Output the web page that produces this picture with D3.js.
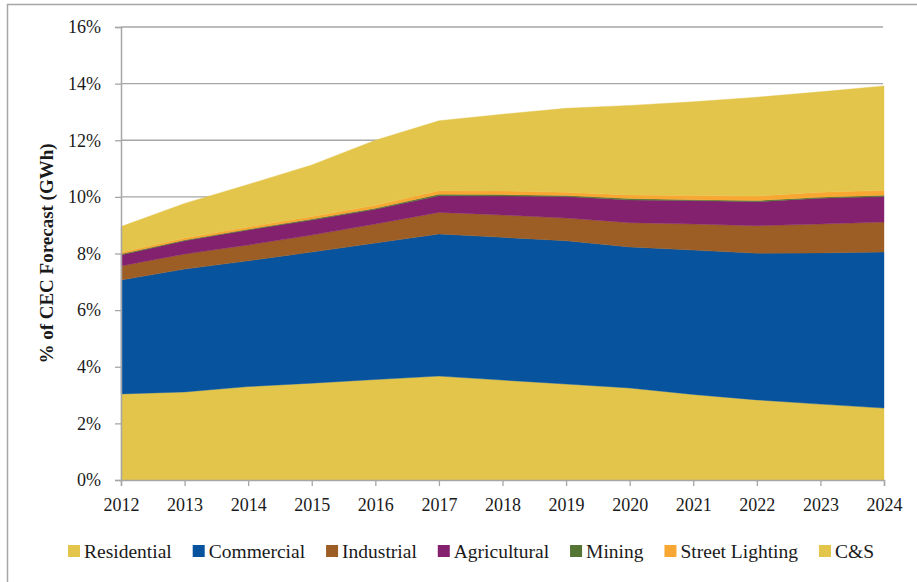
<!DOCTYPE html>
<html>
<head>
<meta charset="utf-8">
<script src="https://cdn.jsdelivr.net/npm/d3@7"></script>
<style>
  html, body { margin: 0; padding: 0; background: #fff; }
  svg { display: block; }
  text { font-family: "Liberation Serif", "Times New Roman", serif; fill: #1a1a1a; }
</style>
</head>
<body>
<svg id="chart" width="917" height="582"></svg>
<script>
// ---- data (percent of CEC forecast, GWh) ----
const years = [2012, 2013, 2014, 2015, 2016, 2017, 2018, 2019, 2020, 2021, 2022, 2023, 2024];
const residential  = [3.04, 3.11, 3.30, 3.42, 3.55, 3.67, 3.53, 3.39, 3.25, 3.02, 2.83, 2.68, 2.54];
const commercial   = [4.02, 4.34, 4.44, 4.63, 4.82, 5.02, 5.04, 5.06, 4.98, 5.10, 5.18, 5.34, 5.51];
const industrial   = [0.50, 0.53, 0.56, 0.60, 0.67, 0.76, 0.79, 0.80, 0.86, 0.92, 0.97, 1.02, 1.06];
const agricultural = [0.39, 0.47, 0.53, 0.53, 0.52, 0.59, 0.67, 0.76, 0.80, 0.83, 0.85, 0.91, 0.90];
const mining       = [0.03, 0.03, 0.03, 0.04, 0.04, 0.05, 0.05, 0.04, 0.05, 0.03, 0.04, 0.04, 0.05];
const streetLight  = [0.06, 0.07, 0.08, 0.09, 0.10, 0.13, 0.13, 0.11, 0.13, 0.15, 0.16, 0.17, 0.17];
const cs           = [0.91, 1.22, 1.50, 1.82, 2.30, 2.47, 2.71, 2.97, 3.16, 3.31, 3.49, 3.55, 3.69];
const seriesNames  = ["Residential", "Commercial", "Industrial", "Agricultural", "Mining", "Street Lighting", "C&S"];
const seriesValues = [residential, commercial, industrial, agricultural, mining, streetLight, cs];
const seriesColors = ["#E2C54A", "#07539E", "#9C5E24", "#84216F", "#557534", "#F8A832", "#E2C54A"];
const yTicks = [0, 2, 4, 6, 8, 10, 12, 14, 16];
const yTitle = "% of CEC Forecast (GWh)";

// ---- table for the stack ----
const table = years.map((yr, i) => {
  const row = { year: yr };
  seriesNames.forEach((n, k) => { row[n] = seriesValues[k][i]; });
  return row;
});

const svg = d3.select("#chart");
const pLeft = 121, pRight = 884, pTop = 27, pBottom = 480;

const x = d3.scaleLinear().domain([years[0], years[years.length - 1]]).range([pLeft, pRight]);
const y = d3.scaleLinear().domain([0, 16]).range([pBottom, pTop]);

// outer border
svg.append("rect")
  .attr("x", 7.5).attr("y", 4.5).attr("width", 930).attr("height", 600)
  .attr("fill", "none").attr("stroke", "#A6A6A6").attr("stroke-width", 1.5);

// gridlines
svg.append("g").selectAll("line")
  .data(yTicks.filter(d => d > 0))
  .join("line")
  .attr("x1", pLeft).attr("x2", pRight - 1)
  .attr("y1", d => y(d)).attr("y2", d => y(d))
  .attr("stroke", "#A6A6A6").attr("stroke-width", 1.3);

// stacked areas
const stack = d3.stack().keys(seriesNames).order(d3.stackOrderNone).offset(d3.stackOffsetNone);
const layers = stack(table);
const area = d3.area()
  .x(d => x(d.data.year))
  .y0(d => y(d[0]))
  .y1(d => y(d[1]));

svg.append("g").selectAll("path")
  .data(layers)
  .join("path")
  .attr("d", area)
  .attr("fill", (d, i) => seriesColors[i])
  .attr("stroke", (d, i) => seriesColors[i])
  .attr("stroke-width", 0.4);

// y axis
const yAxis = svg.append("g")
  .attr("transform", `translate(${pLeft},0)`)
  .call(d3.axisLeft(y).tickValues(yTicks).tickFormat(d => d + "%").tickSize(6).tickPadding(14));
yAxis.select(".domain").attr("stroke", "#A6A6A6").attr("stroke-width", 1.5);
yAxis.selectAll(".tick line").attr("stroke", "#A6A6A6").attr("stroke-width", 1.3);
yAxis.selectAll(".tick text").style("font-size", "18px").style("font-family", "Liberation Serif, serif").attr("fill", "#1a1a1a");

// x axis
const xAxis = svg.append("g")
  .attr("transform", `translate(0,${pBottom})`)
  .call(d3.axisBottom(x).tickValues(years).tickFormat(d3.format("d")).tickSize(6).tickPadding(12));
xAxis.select(".domain").attr("stroke", "#A6A6A6").attr("stroke-width", 1.5);
xAxis.selectAll(".tick line").attr("stroke", "#A6A6A6").attr("stroke-width", 1.3);
xAxis.selectAll(".tick text").style("font-size", "18px").style("font-family", "Liberation Serif, serif").attr("fill", "#1a1a1a");

// y title
svg.append("text")
  .attr("transform", `translate(53,${(pTop + pBottom) / 2}) rotate(-90)`)
  .attr("text-anchor", "middle")
  .style("font-size", "19px").style("font-weight", "bold")
  .text(yTitle);

// legend
const legend = svg.append("g");
const legY = 551, sq = 12, sqGap = 4, legStart = 68, legEnd = 874;
const items = legend.selectAll("g").data(seriesNames).join("g");
items.append("rect").attr("width", sq).attr("height", sq).attr("y", legY - 6)
  .attr("fill", (d, i) => seriesColors[i]);
items.append("text").attr("x", sq + sqGap).attr("y", legY).attr("dy", "0.35em")
  .style("font-size", "19.5px").text(d => d);
const widths = [];
items.select("text").each(function () { widths.push(this.getComputedTextLength()); });
const totalItems = widths.reduce((a, b) => a + b, 0) + seriesNames.length * (sq + sqGap);
const gap = (legEnd - legStart - totalItems) / (seriesNames.length - 1);
let cx = legStart;
items.each(function (d, i) {
  d3.select(this).attr("transform", `translate(${cx},0)`);
  cx += sq + sqGap + widths[i] + gap;
});
</script>
</body>
</html>
